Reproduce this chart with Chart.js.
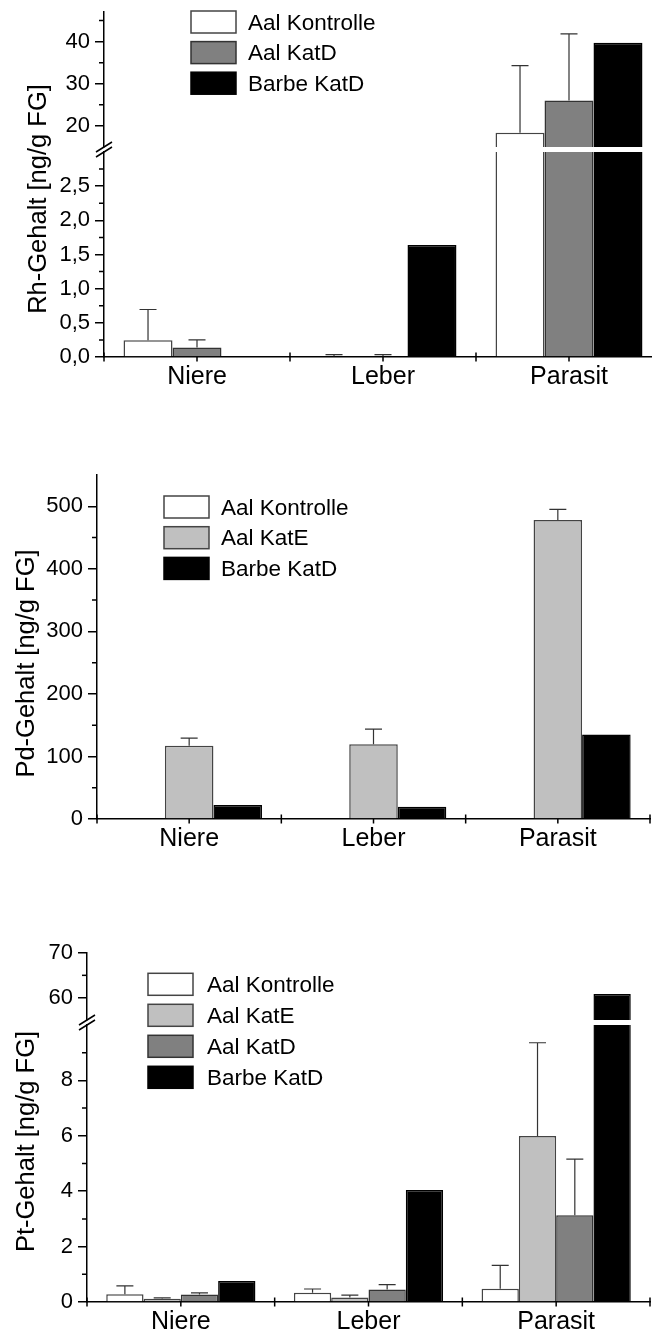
<!DOCTYPE html>
<html>
<head>
<meta charset="utf-8">
<script src="https://cdn.jsdelivr.net/npm/chart.js@4/dist/chart.umd.min.js"></script>
<style>
  html, body { margin: 0; padding: 0; background: #fff; width: 652px; height: 1333px; overflow: hidden; }
  canvas { position: absolute; left: 0; }
</style>
</head>
<body>
<canvas id="rhTop"></canvas>
<canvas id="rhLow"></canvas>
<canvas id="pdChart"></canvas>
<canvas id="ptTop"></canvas>
<canvas id="ptLow"></canvas>
<script>
// ---- data ----
const categories = ['Niere', 'Leber', 'Parasit'];

// Rh (broken axis)
const rh_series = ['Aal Kontrolle', 'Aal KatD', 'Barbe KatD'];
const rh_kontrolle = [0.245, 0.01, 18.4];
const rh_kontrolle_err = [0.45, 0.025, 15.9];
const rh_aal_katd = [0.138, 0.01, 26.0];
const rh_aal_katd_err = [0.112, 0.025, 15.8];
const rh_barbe_katd = [0, 1.64, 39.7];
const rh_top_range = [15, 47];
const rh_top_ticks = [20, 30, 40];
const rh_top_minor = [25, 35, 45];
const rh_low_range = [0, 3];
const rh_low_ticks = [0, 0.5, 1.0, 1.5, 2.0, 2.5];
const rh_low_minor = [0.25, 0.75, 1.25, 1.75, 2.25, 2.75];

// Pd
const pd_series = ['Aal Kontrolle', 'Aal KatE', 'Barbe KatD'];
const pd_kontrolle = [0, 0, 0];
const pd_aal_kate = [117, 119.7, 478];
const pd_aal_kate_err = [12.3, 23.9, 17];
const pd_barbe_katd = [22.3, 19.6, 135];
const pd_range = [0, 550];
const pd_ticks = [0, 100, 200, 300, 400, 500];
const pd_minor = [50, 150, 250, 350, 450];

// Pt (broken axis)
const pt_series = ['Aal Kontrolle', 'Aal KatE', 'Aal KatD', 'Barbe KatD'];
const pt_kontrolle = [0.28, 0.33, 0.48];
const pt_kontrolle_err = [0.30, 0.14, 0.84];
const pt_aal_kate = [0.12, 0.16, 5.99];
const pt_aal_kate_err = [0.03, 0.09, 3.37];
const pt_aal_katd = [0.27, 0.45, 3.13];
const pt_aal_katd_err = [0.06, 0.18, 2.03];
const pt_barbe_katd = [0.76, 4.04, 60.8];
const pt_top_range = [55, 70];
const pt_top_ticks = [60, 70];
const pt_top_minor = [65];
const pt_low_range = [0, 10];
const pt_low_ticks = [0, 2, 4, 6, 8];
const pt_low_minor = [1, 3, 5, 7, 9];

// ---- styling ----
const CANVAS_W = 700;
const FONT = '"Liberation Sans", Arial, Helvetica, sans-serif';
Chart.defaults.font.family = FONT;
Chart.defaults.color = '#000';

const bar_styles = {
    'Aal Kontrolle': { backgroundColor: '#ffffff', borderColor: '#444444' },
    'Aal KatE': { backgroundColor: '#c0c0c0', borderColor: '#444444' },
    'Aal KatD': { backgroundColor: '#808080', borderColor: '#333333' },
    'Barbe KatD': { backgroundColor: '#000000', borderColor: '#000000' }
};

function make_datasets(labels, values, errors, cat_pct) {
    return labels.map((label, i) => Object.assign({
        label: label,
        data: values[i],
        errors: errors[i],
        borderWidth: 1.5,
        clip: 0,
        categoryPercentage: cat_pct,
        barPercentage: 1.0
    }, bar_styles[label]));
}

const fmt_plain = v => String(v);
const fmt_comma = v => v.toFixed(1).replace('.', ',');

// error bars, minor ticks, category ticks, axis break, legend, axis title
function make_extras(p) {
    return {
        id: 'extras',
        afterDatasetsDraw(chart) {
            const ctx = chart.ctx;
            const area = chart.chartArea;
            const y_scale = chart.scales.y;
            ctx.save();
            ctx.beginPath();
            ctx.rect(area.left, area.top - 1, area.right - area.left, area.bottom - area.top + 1);
            ctx.clip();
            ctx.strokeStyle = '#333';
            ctx.lineWidth = 1.2;
            chart.data.datasets.forEach((ds, i) => {
                if (!ds.errors) return;
                const meta = chart.getDatasetMeta(i);
                meta.data.forEach((bar, j) => {
                    const err = ds.errors[j];
                    if (!err) return;
                    const y_bar = y_scale.getPixelForValue(ds.data[j]);
                    const y_top = y_scale.getPixelForValue(ds.data[j] + err);
                    ctx.beginPath();
                    ctx.moveTo(bar.x, y_bar);
                    ctx.lineTo(bar.x, y_top);
                    ctx.moveTo(bar.x - 8.5, y_top);
                    ctx.lineTo(bar.x + 8.5, y_top);
                    ctx.stroke();
                });
            });
            ctx.restore();
        },
        afterDraw(chart) {
            const ctx = chart.ctx;
            const area = chart.chartArea;
            const x_scale = chart.scales.x;
            const y_scale = chart.scales.y;
            ctx.save();
            ctx.strokeStyle = '#000';
            ctx.lineWidth = 1.5;
            ctx.beginPath();
            p.minor.forEach(v => {
                const y = y_scale.getPixelForValue(v);
                ctx.moveTo(area.left - 5, y);
                ctx.lineTo(area.left, y);
            });
            if (p.show_x) {
                for (let k = 0; k <= categories.length; k++) {
                    const x = x_scale.getPixelForValue(k - 0.5);
                    ctx.moveTo(x, area.bottom - 4.5);
                    ctx.lineTo(x, area.bottom + 4.5);
                }
                categories.forEach((c, k) => {
                    const x = x_scale.getPixelForValue(k);
                    ctx.moveTo(x, area.bottom);
                    ctx.lineTo(x, area.bottom + 4.5);
                });
            }
            if (p.break_gap) {
                [area.top - p.break_gap, area.top].forEach(y => {
                    ctx.moveTo(area.left - 8, y + 5);
                    ctx.lineTo(area.left + 8, y - 5);
                });
            }
            ctx.stroke();

            if (p.legend) {
                const lg = p.legend;
                ctx.font = '22.5px ' + FONT;
                ctx.textBaseline = 'middle';
                ctx.textAlign = 'left';
                chart.data.datasets.forEach((ds, i) => {
                    const top = lg.y + i * lg.dy - p.canvas_top;
                    ctx.fillStyle = ds.backgroundColor;
                    ctx.fillRect(lg.x, top, 45, 22);
                    ctx.strokeStyle = ds.borderColor;
                    ctx.lineWidth = 1.5;
                    ctx.strokeRect(lg.x, top, 45, 22);
                    ctx.fillStyle = '#000';
                    ctx.fillText(ds.label, lg.text_x, top + 12.5);
                });
            }
            if (p.title) {
                ctx.translate(p.title.x, p.title.y - p.canvas_top);
                ctx.rotate(-Math.PI / 2);
                ctx.font = '25.5px ' + FONT;
                ctx.fillStyle = '#000';
                ctx.textAlign = 'center';
                ctx.textBaseline = 'alphabetic';
                ctx.fillText(p.title.text, 0, 0);
            }
            ctx.restore();
        }
    };
}

function build_chart(canvas_id, p) {
    const canvas = document.getElementById(canvas_id);
    canvas.width = CANVAS_W;
    canvas.height = p.canvas_height;
    canvas.style.top = p.canvas_top + 'px';
    canvas.style.zIndex = p.z || 1;
    const below = p.canvas_top + p.canvas_height - p.area.bottom;
    const x_height = p.show_x ? below : 0;

    return new Chart(canvas.getContext('2d'), {
        type: 'bar',
        data: { labels: categories, datasets: p.datasets },
        options: {
            responsive: false,
            animation: false,
            devicePixelRatio: 1,
            layout: {
                padding: {
                    left: 0,
                    right: CANVAS_W - p.area.right,
                    top: p.area.top - p.canvas_top,
                    bottom: p.show_x ? 0 : below
                }
            },
            plugins: { legend: { display: false }, tooltip: { enabled: false } },
            scales: {
                x: {
                    display: p.show_x,
                    offset: true,
                    grid: { display: false, drawTicks: false },
                    border: { display: true, color: '#000', width: 1.5 },
                    ticks: { font: { size: 25 }, color: '#000', padding: 5, maxRotation: 0, autoSkip: false },
                    afterFit: s => { s.height = x_height; s.paddingLeft = 0; s.paddingRight = 0; }
                },
                y: {
                    min: p.range[0],
                    max: p.range[1],
                    bounds: 'data',
                    afterBuildTicks: s => { s.ticks = p.ticks.map(v => ({ value: v })); },
                    ticks: { font: { size: 22 }, color: '#000', padding: 5, callback: v => p.fmt(v) },
                    grid: { drawOnChartArea: false, drawTicks: true, tickLength: 9, color: '#000', lineWidth: 1.5 },
                    border: { display: true, color: '#000', width: 1.5 },
                    afterFit: s => { s.width = p.area.left; s.paddingTop = 0; s.paddingBottom = 0; }
                }
            }
        },
        plugins: [make_extras(p)]
    });
}

const rh_values = [rh_kontrolle, rh_aal_katd, rh_barbe_katd];
const rh_errors = [rh_kontrolle_err, rh_aal_katd_err, null];
const pd_values = [pd_kontrolle, pd_aal_kate, pd_barbe_katd];
const pd_errors = [null, pd_aal_kate_err, null];
const pt_values = [pt_kontrolle, pt_aal_kate, pt_aal_katd, pt_barbe_katd];
const pt_errors = [pt_kontrolle_err, pt_aal_kate_err, pt_aal_katd_err, null];

build_chart('rhTop', {
    canvas_top: 0, canvas_height: 150,
    area: { top: 12, bottom: 147, left: 104, right: 662 },
    range: rh_top_range, ticks: rh_top_ticks, minor: rh_top_minor, fmt: fmt_plain,
    show_x: false,
    datasets: make_datasets(rh_series, rh_values, rh_errors, 0.79)
});
build_chart('rhLow', {
    canvas_top: 0, canvas_height: 420, z: 2,
    area: { top: 152, bottom: 357, left: 104, right: 662 },
    range: rh_low_range, ticks: rh_low_ticks, minor: rh_low_minor, fmt: fmt_comma,
    show_x: true, break_gap: 5,
    legend: { x: 191, y: 11, dy: 30.6, text_x: 248 },
    title: { text: 'Rh-Gehalt [ng/g FG]', x: 45.5, y: 199 },
    datasets: make_datasets(rh_series, rh_values, rh_errors, 0.79)
});
build_chart('pdChart', {
    canvas_top: 460, canvas_height: 420,
    area: { top: 475, bottom: 819, left: 97, right: 650 },
    range: pd_range, ticks: pd_ticks, minor: pd_minor, fmt: fmt_plain,
    show_x: true,
    legend: { x: 164, y: 496, dy: 30.7, text_x: 221 },
    title: { text: 'Pd-Gehalt [ng/g FG]', x: 33.5, y: 663.5 },
    datasets: make_datasets(pd_series, pd_values, pd_errors, 0.79)
});
build_chart('ptTop', {
    canvas_top: 930, canvas_height: 95,
    area: { top: 953, bottom: 1020, left: 87, right: 650 },
    range: pt_top_range, ticks: pt_top_ticks, minor: pt_top_minor, fmt: fmt_plain,
    show_x: false,
    datasets: make_datasets(pt_series, pt_values, pt_errors, 0.795)
});
build_chart('ptLow', {
    canvas_top: 930, canvas_height: 403, z: 2,
    area: { top: 1025, bottom: 1302, left: 87, right: 650 },
    range: pt_low_range, ticks: pt_low_ticks, minor: pt_low_minor, fmt: fmt_plain,
    show_x: true, break_gap: 5,
    legend: { x: 148, y: 973.3, dy: 31, text_x: 207 },
    title: { text: 'Pt-Gehalt [ng/g FG]', x: 33.5, y: 1141.5 },
    datasets: make_datasets(pt_series, pt_values, pt_errors, 0.795)
});
</script>
</body>
</html>
